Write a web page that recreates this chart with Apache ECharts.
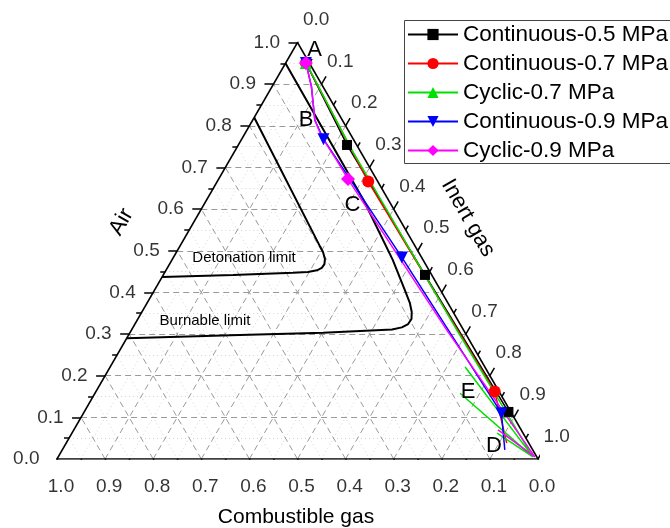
<!DOCTYPE html>
<html>
<head>
<meta charset="utf-8">
<script src="https://cdn.jsdelivr.net/npm/echarts@6/dist/echarts.min.js"></script>
<style>
html, body { margin: 0; padding: 0; background: #fff; }
#main { width: 670px; height: 528px; }
</style>
</head>
<body>
<div id="main"></div>
<script>
// ternary points are [combustible, air], inert = 1 - combustible - air
var tickValues = [0, 0.1, 0.2, 0.3, 0.4, 0.5, 0.6, 0.7, 0.8, 0.9, 1.0];
var tickLabels = ['0.0', '0.1', '0.2', '0.3', '0.4', '0.5', '0.6', '0.7', '0.8', '0.9', '1.0'];
var minorValues = [0.05, 0.15, 0.25, 0.35, 0.45, 0.55, 0.65, 0.75, 0.85, 0.95];

var seriesNames = ['Continuous-0.5 MPa', 'Continuous-0.7 MPa', 'Cyclic-0.7 MPa', 'Continuous-0.9 MPa', 'Cyclic-0.9 MPa'];

var cont05 = [[0.007, 0.951], [0.020, 0.754], [0.014, 0.442], [0.005, 0.113]];
var cont05Marks = [0, 1, 2, 3];

var cont07 = [[0.007, 0.951], [0.020, 0.666], [0.009, 0.162], [0.046, 0.038]];
var cont07Marks = [0, 1, 2];

var cyc07 = [[0.007, 0.951], [0.016, 0.742], [0.014, 0.310], [0.008, 0.005], [0.041, 0.221], [0.008, 0.005],
  [0.083, 0.158], [0.008, 0.005], [0.054, 0.062], [0.008, 0.005]];
var cyc07Marks = [0];

var cont09 = [[0.007, 0.951], [0.024, 0.894], [0.057, 0.814], [0.062, 0.768], [0.041, 0.484], [0.021, 0.110], [0.058, 0.022]];
var cont09Marks = [0, 3, 4, 5];

var cyc09 = [[0.007, 0.951], [0.024, 0.894], [0.057, 0.814], [0.063, 0.774], [0.060, 0.718], [0.059, 0.672],
  [0.035, 0.310], [0.018, 0.142], [0.004, 0.005], [0.048, 0.070], [0.004, 0.005]];
var cyc09Marks = [0, 5];

var detonationLimit = [[0.180, 0.820], [0.198, 0.510], [0.1985, 0.497], [0.203, 0.480], [0.210, 0.468], [0.220, 0.459],
  [0.233, 0.453], [0.254, 0.449], [0.286, 0.447], [0.413, 0.442], [0.563, 0.437]];
var burnableLimit = [[0.050, 0.950], [0.052, 0.620], [0.063, 0.478], [0.074, 0.406], [0.079, 0.375], [0.086, 0.353],
  [0.095, 0.336], [0.108, 0.324], [0.125, 0.316], [0.148, 0.311], [0.295, 0.303], [0.471, 0.298], [0.710, 0.290]];

var SQ = Math.sqrt(3) / 2;
var PX = 1 / 481; // one pixel in data units
var FONT = 'Liberation Sans, Arial, sans-serif';

function xy(c, a) { return [1 - c - a + a / 2, a * SQ]; }
function seg(p, q) { return { coords: [p, q] }; }

// grid lines
var majorGrid = [], minorGrid = [];
function addGrid(list, v) {
  list.push(seg(xy(1 - v, v), xy(0, v)));      // air
  list.push(seg(xy(v, 0), xy(v, 1 - v)));      // combustible
  list.push(seg(xy(1 - v, 0), xy(0, 1 - v)));  // inert
}
tickValues.slice(1, 10).forEach(function (v) { addGrid(majorGrid, v); });
minorValues.forEach(function (v) { addGrid(minorGrid, v); });

// ticks
var ticks = [];
function addTicks(v, len) {
  var l = xy(1 - v, v);
  ticks.push(seg(l, [l[0] - len * PX, l[1]]));
  var b = xy(v, 0);
  ticks.push(seg(b, [b[0] + 0.5 * len * PX, b[1] - SQ * len * PX]));
  var r = xy(0, 1 - v);
  ticks.push(seg(r, [r[0] + 0.5 * len * PX, r[1] + SQ * len * PX]));
}
tickValues.forEach(function (v) { addTicks(v, 9); });
minorValues.forEach(function (v) { addTicks(v, 5); });

var frame = [seg(xy(1, 0), xy(0, 0)), seg(xy(0, 0), xy(0, 1)), seg(xy(0, 1), xy(1, 0))];

function labelSeries(pts, label) {
  return {
    type: 'scatter', symbolSize: 1, silent: true, z: 3,
    itemStyle: { color: 'transparent' },
    data: pts,
    label: Object.assign({ show: true, color: '#000', fontSize: 19, fontFamily: FONT,
      formatter: function (p) { return p.value[2]; } }, label)
  };
}

var leftLabels = tickValues.map(function (v, k) { return xy(1 - v, v).concat(tickLabels[k]); });
var bottomLabels = tickValues.map(function (v, k) { return xy(v, 0).concat(tickLabels[k]); });
var rightLabels = tickValues.map(function (v, k) { return xy(0, 1 - v).concat(tickLabels[k]); });

function build(name, pts, marks, color, symbol, size) {
  return {
    name: name, type: 'line', z: 5,
    data: pts.map(function (p, k) {
      var item = { value: xy(p[0], p[1]) };
      if (marks.indexOf(k) < 0) item.symbol = 'none';
      return item;
    }),
    symbol: symbol, symbolSize: size,
    lineStyle: { color: color, width: 1.5 },
    itemStyle: { color: color }
  };
}

function limitLine(pts) {
  return {
    type: 'line', z: 4, silent: true, symbol: 'none',
    data: pts.map(function (p) { return xy(p[0], p[1]); }),
    lineStyle: { color: '#000', width: 2 }
  };
}

function txt(text, x, y, size, rot) {
  return { type: 'text', x: x, y: y, rotation: rot || 0, z: 10,
    style: { text: text, fontSize: size, fontFamily: FONT, fill: '#000',
      textAlign: 'center', textVerticalAlign: 'middle', align: 'center', verticalAlign: 'middle' } };
}

var myChart = echarts.init(document.getElementById('main'));
var option = {
  animation: false,
  grid: { left: 57, top: 42.5, width: 481, height: 416.5 },
  xAxis: { type: 'value', min: 0, max: 1, show: false },
  yAxis: { type: 'value', min: 0, max: SQ, show: false },
  legend: {
    orient: 'vertical', left: 404, top: 20,
    itemWidth: 50, itemHeight: 14, itemGap: 6,
    padding: [3, 8, 6, 3],
    borderWidth: 0,
    textStyle: { fontFamily: FONT, fontSize: 22.5, color: '#000', lineHeight: 22 },
    data: seriesNames
  },
  graphic: [
    // legend frame runs past the right edge, as in the source figure
    { type: 'rect', shape: { x: 404.5, y: 20.5, width: 300, height: 143 }, z: 0,
      style: { fill: 'none', stroke: '#444', lineWidth: 1 } },
    txt('Air', 121.5, 222, 22, Math.PI / 3),
    txt('Inert gas', 468, 218, 22, -Math.PI / 3),
    txt('Combustible gas', 296, 517, 21),
    txt('A', 314.5, 50, 22), txt('B', 306, 120, 22), txt('C', 352.5, 204.5, 22),
    txt('D', 494, 446, 22), txt('E', 468, 392, 22),
    txt('Detonation limit', 244, 258, 15), txt('Burnable limit', 205, 321, 15)
  ],
  series: [
    { type: 'lines', coordinateSystem: 'cartesian2d', silent: true, z: 1, data: minorGrid,
      lineStyle: { color: '#d4d4d4', width: 1, type: [1, 3], opacity: 1 } },
    { type: 'lines', coordinateSystem: 'cartesian2d', silent: true, z: 2, data: majorGrid,
      lineStyle: { color: '#9a9a9a', width: 1, type: [6, 4], opacity: 1 } },
    { type: 'lines', coordinateSystem: 'cartesian2d', silent: true, z: 3, data: frame.concat(ticks),
      lineStyle: { color: '#000', width: 1.5, opacity: 1 } },
    labelSeries(leftLabels, { position: 'left', distance: 17 }),
    labelSeries(bottomLabels, { position: 'bottom', distance: 18, offset: [4, 0] }),
    labelSeries(rightLabels, { position: 'right', distance: 5, offset: [0, -22.6] }),
    limitLine(detonationLimit),
    limitLine(burnableLimit),
    build(seriesNames[0], cont05, cont05Marks, '#000000', 'rect', 10),
    build(seriesNames[1], cont07, cont07Marks, '#ff0000', 'circle', 12),
    build(seriesNames[2], cyc07, cyc07Marks, '#00e000', 'triangle', 12),
    build(seriesNames[3], cont09, cont09Marks, '#0000ff', 'path://M0,0 L10,0 L5,9 Z', 12),
    build(seriesNames[4], cyc09, cyc09Marks, '#ff00ff', 'diamond', 14)
  ]
};
myChart.setOption(option);
</script>
</body>
</html>
